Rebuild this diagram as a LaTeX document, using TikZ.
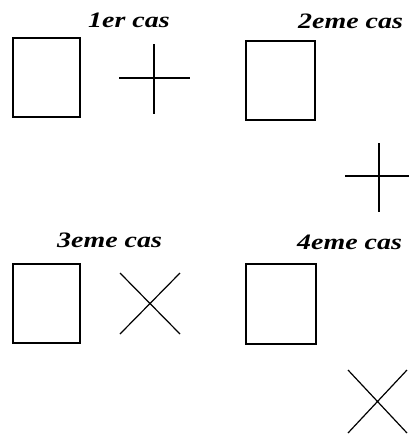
\documentclass[tikz,border=0pt]{standalone}
\usepackage{fontspec}
\setmainfont{Liberation Serif}
\begin{document}
\begin{tikzpicture}[x=1pt,y=-1pt,
  lbl/.style={anchor=base west,inner sep=0pt,font=\fontsize{22}{22}\selectfont\bfseries\itshape},
  boxx/.style={draw,line width=1.3pt,inner sep=0pt},
  crossline/.style={line width=1.2pt}]
\useasboundingbox[fill=white] (0,0) rectangle (409,437);
% labels
\node[lbl] (l1) at (88,27) {\scalebox{1.27}[1]{1er cas}};
\node[lbl] (l2) at (298,28) {\scalebox{1.27}[1]{2eme cas}};
\node[lbl] (l3) at (57,247) {\scalebox{1.27}[1]{3eme cas}};
\node[lbl] (l4) at (297,249) {\scalebox{1.27}[1]{4eme cas}};
% boxes
\draw[boxx] (13,38) rectangle (80,117);
\draw[boxx] (246,41) rectangle (315,120);
\draw[boxx] (13,264) rectangle (80,343);
\draw[boxx] (246,264) rectangle (316,344);
% plus crosses
\draw[crossline] (119,78) -- (190,78) (154,44) -- (154,114);
\draw[crossline] (345,176) -- (409,176) (379,143) -- (379,212);
% x crosses
\draw[crossline] (120,273) -- (180,334) (180,273) -- (120,334);
\draw[crossline] (348,370) -- (407,433) (407,370) -- (348,433);
\end{tikzpicture}
\end{document}
